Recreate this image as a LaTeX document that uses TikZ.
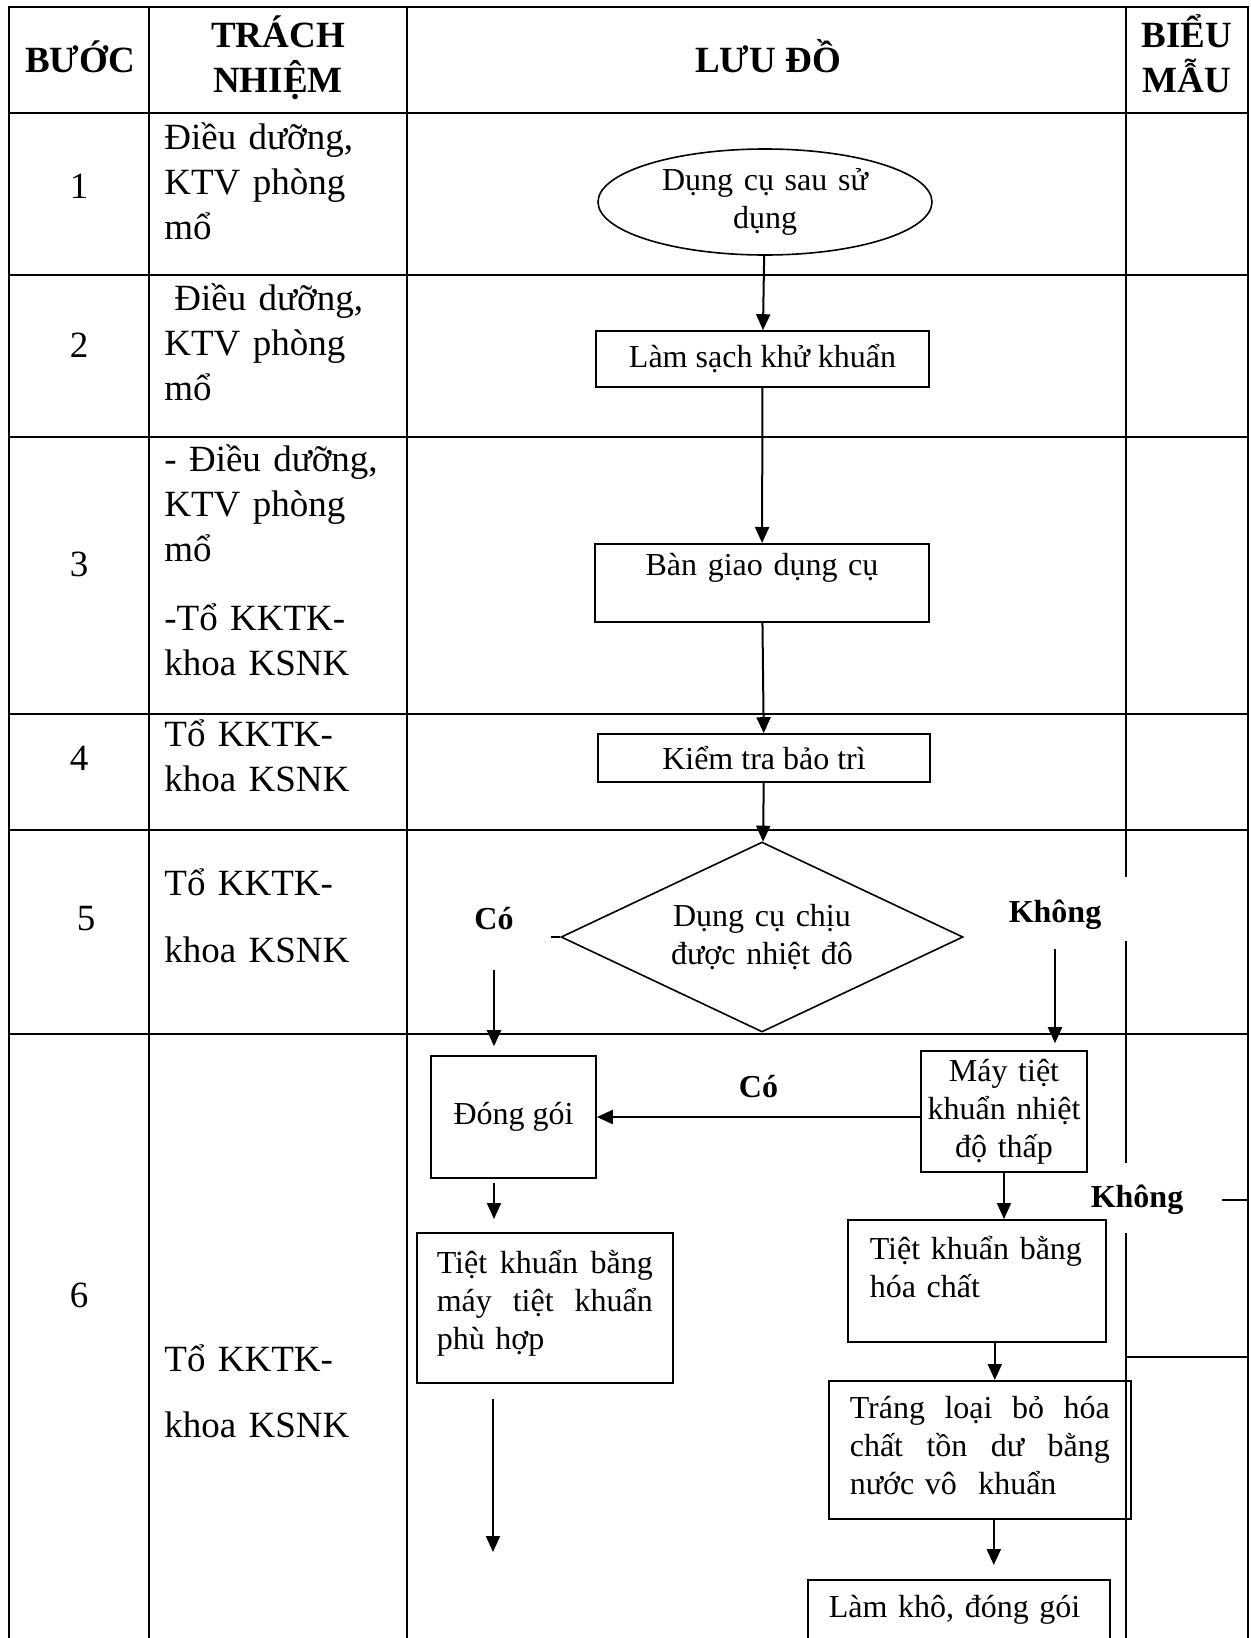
\documentclass[tikz,border=0pt]{standalone}
\usepackage{fontspec}
\setmainfont{Liberation Serif}
\usetikzlibrary{shapes.geometric,arrows.meta}
\tikzset{
	grid/.style={line width=1.3pt,line cap=rect},
	box/.style={draw,line width=.8pt,inner sep=0pt,font=\fontsize{16}{19}\selectfont},
	arr/.style={line width=1pt,-{Triangle[width=7pt,length=8pt]}},
	lab/.style={font=\fontsize{16}{19}\selectfont\bfseries},
	hd/.style={font=\fontsize{18.5}{22.5}\selectfont\bfseries,anchor=base},
	who/.style={font=\fontsize{18.5}{22.5}\selectfont,align=left,text width=125pt,anchor=base west,inner sep=0pt},
	num/.style={font=\fontsize{18.5}{22.5}\selectfont}
}
\begin{document}
\begin{tikzpicture}[x=.5pt,y=-.5pt]
		\useasboundingbox (0,0) rectangle (1250,1638);
		\clip (0,0) rectangle (1250,1638);
		\draw[grid] (9,7) -- (1248,7);
		\foreach \y in {113,275,437,714,830,1034} \draw[grid] (9,\y) -- (1248,\y);
		\foreach \x in {9,149,407,1248} \draw[grid] (\x,7) -- (\x,1650);
		\draw[grid] (1126,7) -- (1126,876) (1126,942) -- (1126,1162) (1126,1234) -- (1126,1650);
		\draw[grid] (1223,1200) -- (1248,1200) (1126,1357) -- (1248,1357);
		\node[hd] (h1) at (80,72) {BƯỚC};
		\node[hd] (h2) at (278,47) {TRÁCH};
		\node[hd] (h2b) at (278,92) {NHIỆM};
		\node[hd] (h3) at (768,72) {LƯU ĐỒ};
		\node[hd] (h4) at (1187,47) {BIỂU};
		\node[hd] (h4b) at (1187,92) {MẪU};
		\node[num] (n1) at (79,186) {1};
		\node[num] (n2) at (79,345) {2};
		\node[num] (n3) at (79,564) {3};
		\node[num] (n4) at (79,758) {4};
		\node[num] (n5) at (86,919) {5};
		\node[num] (n6) at (79,1295) {6};
		\node[who] (w1) at (164,149) {Điều dưỡng,\\KTV phòng\\mổ};
		\node[who] (w2) at (164,310) {\hspace*{5pt}Điều dưỡng,\\KTV phòng\\mổ};
		\node[who] (w3) at (164,471) {- Điều dưỡng,\\KTV phòng\\mổ\\[12pt]-Tổ KKTK-\\khoa KSNK};
		\node[who] (w4) at (164,746) {Tổ KKTK-\\khoa KSNK};
		\node[who] (w5) at (164,895) {Tổ KKTK-\\[11pt]khoa KSNK};
		\node[who] (w6) at (164,1371) {Tổ KKTK-\\[10.5pt]khoa KSNK};
		\node[box,ellipse,minimum width=167pt,minimum height=53pt,text width=112pt,align=center] (start) at (765,202) {Dụng cụ sau sử\\dụng};
		\node[box,minimum width=166.5pt,minimum height=28pt] (clean) at (762.5,359) {Làm sạch khử khuẩn};
		\node[box,anchor=north,text width=167pt,align=center,text height=16pt,text depth=23pt] (hand) at (762,543) {Bàn giao dụng cụ};
		\node[box,minimum width=166pt,minimum height=24pt] (check) at (764,758) {Kiểm tra bảo trì};
		\node[box,diamond,aspect=2.1,minimum width=201pt,minimum height=95pt,text width=102pt,align=center] (dec) at (762,937) {Dụng cụ chịu\\được nhiệt đô};
		\coordinate (stub) at (551,937);
		\node[lab] (yes1) at (494,919) {Có};
		\node[lab] (no1) at (1055,915) {Không};
		\node[box,minimum width=82.5pt,minimum height=61pt] (pack) at (513.5,1117) {Đóng gói};
		\node[box,minimum width=83pt,minimum height=60.5pt,text width=83pt,align=center] (mtk) at (1004,1111.5) {Máy tiệt\\khuẩn nhiệt\\độ thấp};
		\node[box,anchor=north west,inner xsep=10pt,text width=108pt,align=left,text height=20.5pt,text depth=54.5pt] (steam) at (416,1232) {Tiệt\hfill khuẩn\hfill bằng\\máy\hfill tiệt\hfill khuẩn\\phù hợp};
		\node[box,anchor=north west,inner xsep=11pt,text width=107pt,align=left,text height=20pt,text depth=41pt] (chem) at (847,1219) {Tiệt khuẩn bằng\\hóa chất};
		\node[box,anchor=north west,inner xsep=10.5pt,text width=130pt,align=left,text height=19pt,text depth=50pt] (rinse) at (828,1380) {Tráng\hfill loại\hfill bỏ\hfill hóa\\chất\hfill tồn\hfill dư\hfill bằng\\nước vô\ \ khuẩn};
		\node[box,anchor=north west,inner xsep=10.5pt,text width=130pt,align=left,text height=19pt,text depth=45pt] (dry) at (807,1579) {Làm khô, đóng gói};
		\node[lab] (no2) at (1137,1200) {Không};
		\coordinate (out) at (493,1552);
		\draw[arr] (start) -- (clean);
		\draw[arr] (clean) -- (hand);
		\draw[arr] (hand) -- (check);
		\draw[arr] (check) -- (dec);
		\draw[line width=1pt] (dec.west) -- (stub);
		\draw[arr,shorten <=16.5pt,shorten >=4.5pt] (yes1) -- (yes1 |- pack.north);
		\draw[arr,shorten <=6pt,shorten >=3.5pt] (no1) -- (no1 |- mtk.north);
		\draw[arr] (mtk.west |- pack.east) -- node[lab,midway,above=6pt]{Có} (pack.east);
		\draw[arr] (mtk) -- (mtk |- chem.north);
		\draw[arr,shorten <=2pt,shorten >=6.5pt] (pack.south -| yes1) -- (yes1 |- steam.north);
		\draw[arr,shorten <=7.5pt] (steam.south -| out) -- (out);
		\draw[arr] ([xshift=9pt]chem.south) -- ([xshift=9pt]chem.south |- rinse.north);
		\draw[arr,shorten >=7pt] ([xshift=7pt]rinse.south) -- ([xshift=7pt]rinse.south |- dry.north);
	\end{tikzpicture}
\end{document}
